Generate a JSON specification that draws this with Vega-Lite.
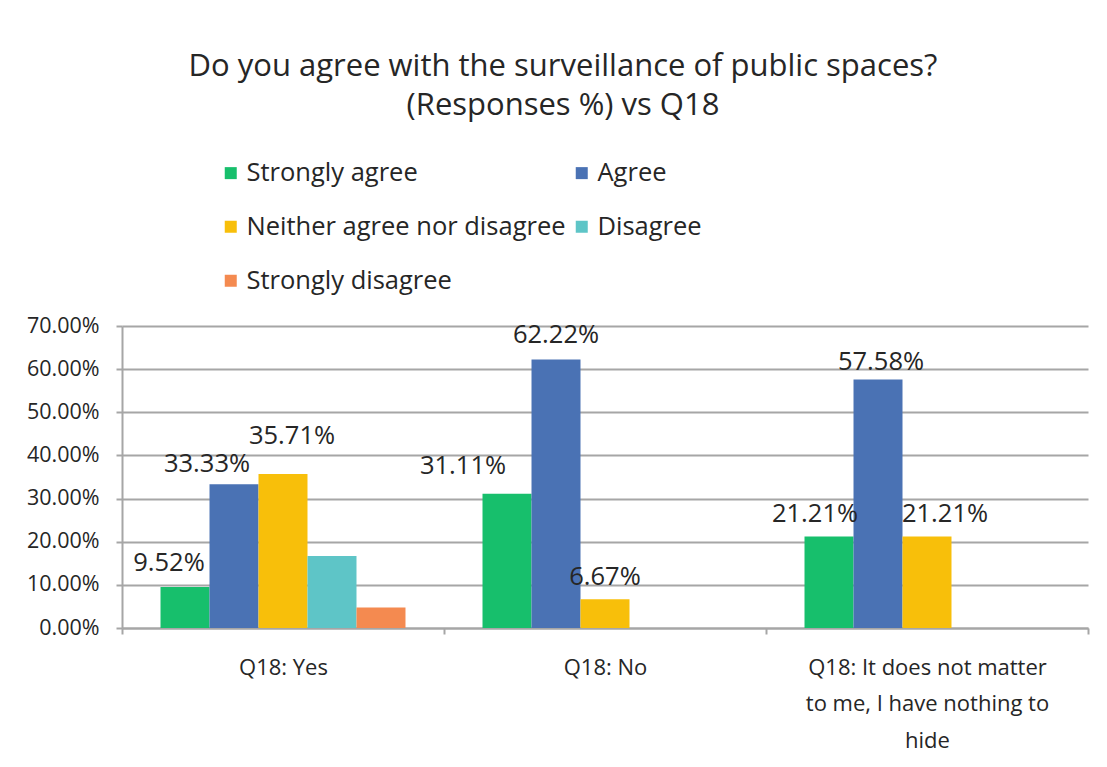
{
  "$schema": "https://vega.github.io/schema/vega-lite/v6.json",
  "width": 966,
  "height": 302,
  "autosize": {"type": "none"},
  "padding": {"left": 122, "top": 326, "right": 19, "bottom": 139},
  "background": "white",
  "config": {
    "font": "Open Sans",
    "view": {"stroke": null}
  },
  "title": {
    "text": ["Do you agree with the surveillance of public spaces?", "(Responses %) vs Q18"],
    "fontSize": 31,
    "fontWeight": "normal",
    "color": "#262626",
    "lineHeight": 39,
    "anchor": "middle",
    "frame": "group",
    "dx": -42,
    "offset": 38
  },
  "data": {
    "values": [
      {"group": "Q18: Yes", "response": "Strongly agree", "value": 0.0952},
      {"group": "Q18: Yes", "response": "Agree", "value": 0.3333},
      {"group": "Q18: Yes", "response": "Neither agree nor disagree", "value": 0.3571},
      {"group": "Q18: Yes", "response": "Disagree", "value": 0.1667},
      {"group": "Q18: Yes", "response": "Strongly disagree", "value": 0.0476},
      {"group": "Q18: No", "response": "Strongly agree", "value": 0.3111},
      {"group": "Q18: No", "response": "Agree", "value": 0.6222},
      {"group": "Q18: No", "response": "Neither agree nor disagree", "value": 0.0667},
      {"group": "Q18: It does not matter to me, I have nothing to hide", "response": "Strongly agree", "value": 0.2121},
      {"group": "Q18: It does not matter to me, I have nothing to hide", "response": "Agree", "value": 0.5758},
      {"group": "Q18: It does not matter to me, I have nothing to hide", "response": "Neither agree nor disagree", "value": 0.2121}
    ]
  },
  "encoding": {
    "x": {
      "field": "group",
      "type": "nominal",
      "sort": null,
      "scale": {"paddingInner": 0, "paddingOuter": 0},
      "axis": {
        "title": null,
        "labelAngle": 0,
        "labelFontSize": 22,
        "labelColor": "#262626",
        "labelLimit": 0,
        "labelPadding": 23,
        "labelLineHeight": 36.5,
        "labelBaseline": "top",
        "tickBand": "extent",
        "tickSize": 6,
        "tickColor": "#a6a6a6",
        "tickWidth": 2,
        "domainColor": "#a6a6a6",
        "domainWidth": 2,
        "labelExpr": "datum.value == 'Q18: It does not matter to me, I have nothing to hide' ? ['Q18: It does not matter', 'to me, I have nothing to', 'hide'] : datum.value",
        "encode": {
          "labels": {
            "update": {
              "dx": {"signal": "datum.value == 'Q18: Yes' ? 2 : datum.value == 'Q18: No' ? 6 : 16"}
            }
          }
        }
      }
    },
    "xOffset": {
      "field": "response",
      "type": "nominal",
      "sort": ["Strongly agree", "Agree", "Neither agree nor disagree", "Disagree", "Strongly disagree"],
      "scale": {"paddingInner": 0, "paddingOuter": 0.786}
    },
    "y": {
      "field": "value",
      "type": "quantitative",
      "scale": {"domain": [0, 0.7], "nice": false},
      "axis": {
        "title": null,
        "format": ".2%",
        "values": [0, 0.1, 0.2, 0.3, 0.4, 0.5, 0.6, 0.7],
        "labelOverlap": false,
        "labelFontSize": 21.5,
        "labelColor": "#262626",
        "labelPadding": 17,
        "tickSize": 6,
        "tickColor": "#a6a6a6",
        "tickWidth": 2,
        "domainColor": "#a6a6a6",
        "domainWidth": 2,
        "gridColor": "#a6a6a6",
        "gridWidth": 2
      }
    }
  },
  "layer": [
    {
      "mark": {"type": "bar"},
      "encoding": {
        "color": {
          "field": "response",
          "type": "nominal",
          "sort": ["Strongly agree", "Agree", "Neither agree nor disagree", "Disagree", "Strongly disagree"],
          "scale": {
            "domain": ["Strongly agree", "Agree", "Neither agree nor disagree", "Disagree", "Strongly disagree"],
            "range": ["#17bf6c", "#4a72b4", "#f8bf0a", "#5ec5c7", "#f48a50"]
          },
          "legend": {
            "title": null,
            "orient": "none",
            "legendX": 96,
            "legendY": -166,
            "columns": 2,
            "direction": "horizontal",
            "symbolType": "square",
            "symbolSize": 144,
            "symbolStrokeWidth": 0,
            "labelFontSize": 25.5,
            "labelColor": "#262626",
            "labelLimit": 0,
            "labelOffset": 3,
            "rowPadding": 27,
            "columnPadding": 3
          }
        }
      }
    },
    {
      "transform": [{"filter": "(datum.group == 'Q18: No' && datum.response == 'Neither agree nor disagree')"}],
      "mark": {"type": "text", "baseline": "alphabetic", "dy": -14, "fontSize": 25.5, "color": "#262626"},
      "encoding": {"text": {"field": "value", "type": "quantitative", "format": ".2%"}}
    },
    {
      "transform": [{"filter": "datum.group == 'Q18: No' && datum.response == 'Agree'"}],
      "mark": {"type": "text", "baseline": "alphabetic", "dy": -17, "fontSize": 25.5, "color": "#262626"},
      "encoding": {"text": {"field": "value", "type": "quantitative", "format": ".2%"}}
    },
    {
      "transform": [{"filter": "datum.group != 'Q18: Yes' && datum.group != 'Q18: No' && datum.response == 'Agree'"}],
      "mark": {"type": "text", "baseline": "alphabetic", "dx": 3, "dy": -10, "fontSize": 25.5, "color": "#262626"},
      "encoding": {"text": {"field": "value", "type": "quantitative", "format": ".2%"}}
    },
    {
      "transform": [{"filter": "datum.group == 'Q18: Yes' && datum.response == 'Strongly agree'"}],
      "mark": {"type": "text", "baseline": "alphabetic", "dx": -16, "dy": -16, "fontSize": 25.5, "color": "#262626"},
      "encoding": {"text": {"field": "value", "type": "quantitative", "format": ".2%"}}
    },
    {
      "transform": [{"filter": "datum.group == 'Q18: Yes' && datum.response == 'Agree'"}],
      "mark": {"type": "text", "baseline": "alphabetic", "dx": -27, "dy": -12, "fontSize": 25.5, "color": "#262626"},
      "encoding": {"text": {"field": "value", "type": "quantitative", "format": ".2%"}}
    },
    {
      "transform": [{"filter": "datum.group == 'Q18: Yes' && datum.response == 'Neither agree nor disagree'"}],
      "mark": {"type": "text", "baseline": "alphabetic", "dx": 9, "dy": -30, "fontSize": 25.5, "color": "#262626"},
      "encoding": {"text": {"field": "value", "type": "quantitative", "format": ".2%"}}
    },
    {
      "transform": [{"filter": "datum.group == 'Q18: No' && datum.response == 'Strongly agree'"}],
      "mark": {"type": "text", "baseline": "alphabetic", "dx": -44, "dy": -20, "fontSize": 25.5, "color": "#262626"},
      "encoding": {"text": {"field": "value", "type": "quantitative", "format": ".2%"}}
    },
    {
      "transform": [{"filter": "datum.group != 'Q18: Yes' && datum.group != 'Q18: No' && datum.response == 'Strongly agree'"}],
      "mark": {"type": "text", "baseline": "alphabetic", "dx": -14, "dy": -14, "fontSize": 25.5, "color": "#262626"},
      "encoding": {"text": {"field": "value", "type": "quantitative", "format": ".2%"}}
    },
    {
      "transform": [{"filter": "datum.group != 'Q18: Yes' && datum.group != 'Q18: No' && datum.response == 'Neither agree nor disagree'"}],
      "mark": {"type": "text", "baseline": "alphabetic", "dx": 18, "dy": -14, "fontSize": 25.5, "color": "#262626"},
      "encoding": {"text": {"field": "value", "type": "quantitative", "format": ".2%"}}
    }
  ]
}
